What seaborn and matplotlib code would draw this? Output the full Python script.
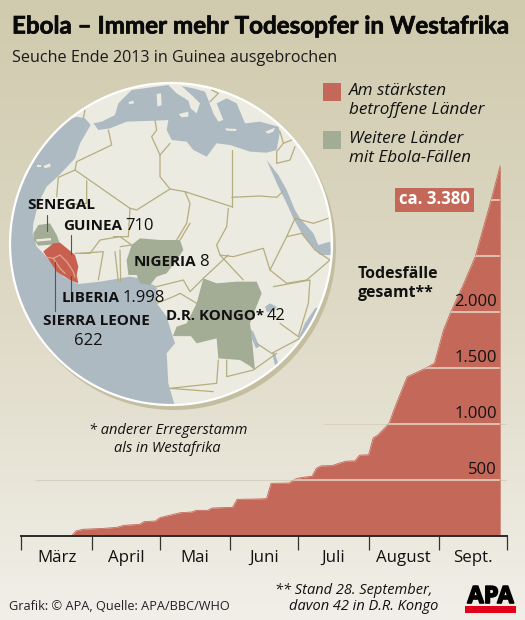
import numpy as np
import pandas as pd
import seaborn as sns
import matplotlib.pyplot as plt
import matplotlib.patheffects as pe
from matplotlib.patches import Circle, Polygon, Rectangle

# cumulative deaths
dates = ["2014-03-23", "2014-03-25", "2014-03-28", "2014-04-06", "2014-04-12", "2014-04-15",
         "2014-04-22", "2014-04-24", "2014-04-29", "2014-05-01", "2014-05-10", "2014-05-15",
         "2014-05-17", "2014-05-22", "2014-05-24", "2014-06-02", "2014-06-04", "2014-06-14",
         "2014-06-17", "2014-06-19", "2014-06-27", "2014-06-30", "2014-07-03", "2014-07-07",
         "2014-07-09", "2014-07-11", "2014-07-16", "2014-07-19", "2014-07-22", "2014-07-26",
         "2014-07-28", "2014-08-01", "2014-08-03", "2014-08-05", "2014-08-07", "2014-08-10",
         "2014-08-12", "2014-08-14", "2014-08-18", "2014-08-26", "2014-08-30", "2014-09-03",
         "2014-09-06", "2014-09-12", "2014-09-17", "2014-09-24", "2014-09-28"]
deaths = [0, 45, 60, 68, 77, 95, 104, 128, 134, 164, 208, 214, 229, 229, 250, 256, 327, 331,
          334, 470, 473, 512, 524, 533, 605, 626, 629, 650, 668, 671, 722, 725, 876, 900, 942,
          1005, 1117, 1222, 1422, 1497, 1542, 1839, 1990, 2257, 2494, 3000, 3306]

month_starts = ["2014-03-01", "2014-04-01", "2014-05-01", "2014-06-01", "2014-07-01",
                "2014-08-01", "2014-09-01", "2014-10-01"]
month_labels = ["März", "April", "Mai", "Juni", "Juli", "August", "Sept."]
y_ticks = [500, 1000, 1500, 2000, 2500, 3000]
y_tick_labels = ["500", "1.000", "1.500", "2.000", "", ""]

RED = "#c4695a"
MAP_RED = "#c9604f"
GREEN = "#a3ac95"
SEA = "#aebac2"
LAND = "#ecebe1"
BORDER = "#b5ad7f"
INK = "#111111"
FONT = "Open Sans"

sns.set_theme(style="white")
plt.rcParams["font.family"] = [FONT, "DejaVu Sans"]

fig = plt.figure(figsize=(5.25, 6.2), dpi=100)

# page in pixel coordinates, for the background, map and labels
page = fig.add_axes([0, 0, 1, 1])
page.set_xlim(0, 525)
page.set_ylim(620, 0)
page.axis("off")

grad = np.zeros((620, 1, 3))
stops = np.array([[208, 202, 174], [222, 217, 197], [241, 239, 232]]) / 255
for c in range(3):
    grad[:, 0, c] = np.interp(np.arange(620), [0, 300, 620], stops[:, c])
page.imshow(grad, extent=[0, 525, 620, 0], aspect="auto", zorder=0)


def z4(pts):
    return [(x / 3, 90 + y / 3) for x, y in pts]


def z5(pts):
    return [(60 + x / 3, 80 + y / 3) for x, y in pts]


def z7(pts):
    return [(10 + x / 3, 180 + y / 3) for x, y in pts]


cx, cy, r = 171, 244, 161
page.add_patch(Circle((cx + 3, cy + 4), r + 1, fc="#c4bea0", ec="none", zorder=1))
globe = Circle((cx, cy), r, fc=LAND, ec="none", zorder=2)
page.add_patch(globe)

atlantic = z4([(180, 100), (230, 80), (255, 85), (272, 105), (240, 160), (225, 205), (175, 258),
               (140, 290), (115, 340), (100, 400), (98, 430), (110, 470), (130, 490), (155, 520),
               (190, 560), (235, 582), (300, 575), (390, 560), (420, 565), (470, 590), (470, 640),
               (500, 680), (515, 730), (525, 760), (500, 790), (505, 880), (528, 960), (0, 1000), (0, 0)])
med = z5([(100, 130), (125, 125), (165, 105), (175, 70), (215, 30), (325, 15), (350, 40), (385, 62),
          (392, 85), (410, 100), (420, 70), (400, 50), (365, 18), (400, 25), (435, 35), (445, 60),
          (460, 100), (475, 125), (490, 120), (470, 70), (500, 55), (530, 70), (555, 130), (600, 125),
          (655, 140), (660, 155), (650, 210), (620, 218), (570, 215), (510, 195), (470, 190), (440, 230),
          (400, 210), (380, 185), (335, 180), (320, 150), (325, 120), (285, 122), (200, 125), (150, 145),
          (115, 150)])
red_sea = z4([(800, 210), (835, 255), (860, 300), (885, 360), (900, 385), (940, 430), (955, 465),
              (990, 455), (995, 495), (960, 495), (930, 460), (905, 430), (880, 385), (860, 340),
              (835, 290), (815, 245)])
indian = z4([(895, 745), (915, 700), (945, 655), (1000, 640), (1000, 800), (900, 760)])
victoria = z4([(795, 650), (810, 640), (830, 650), (822, 665), (800, 665)])
tanganyika = z4([(748, 715), (760, 725), (778, 770), (768, 775), (755, 745)])
malawi = z4([(816, 788), (824, 788), (836, 825), (826, 830)])
for poly in [atlantic, med, red_sea, indian, victoria, tanganyika, malawi]:
    p = Polygon(poly, fc=SEA, ec="none", zorder=3)
    page.add_patch(p)
    p.set_clip_path(globe)

islands = [z5([(290, 42), (303, 40), (305, 75), (292, 80)]),
           z5([(356, 102), (385, 95), (385, 110), (365, 112)]),
           z5([(495, 145), (530, 147), (528, 153), (500, 152)]),
           z5([(615, 155), (645, 143), (640, 155), (625, 161)]),
           z5([(205, 66), (220, 62), (222, 70), (208, 73)]),
           z4([(110, 225), (122, 225), (122, 232), (110, 232)]),
           z4([(130, 228), (150, 220), (152, 230), (135, 235)])]
for poly in islands:
    page.add_patch(Polygon(poly, fc=LAND, ec="none", zorder=4))

borders = [
    [(325, 120), (335, 165), (230, 215), (225, 240), (175, 262), (170, 320)],
    [(225, 240), (390, 355), (410, 360), (510, 297), (555, 305), (570, 340), (560, 400), (530, 450)],
    [(260, 272), (260, 340), (200, 345)],
    [(465, 90), (470, 120), (455, 140), (480, 195), (480, 260), (510, 297)],
    [(510, 160), (480, 195)],
    [(695, 180), (695, 350)],
    [(555, 305), (695, 350)],
    [(695, 322), (780, 318), (830, 322), (848, 305)],
    [(685, 355), (680, 410), (650, 465), (660, 495), (730, 570)],
    [(660, 495), (700, 500), (790, 475), (810, 540), (860, 580), (920, 570), (990, 510)],
    [(810, 540), (860, 440), (885, 385), (940, 400), (985, 385)],
    [(860, 440), (905, 430), (945, 480), (990, 510)],
    [(225, 490), (270, 490), (300, 450), (360, 440), (395, 465)],
    [(390, 355), (385, 440), (340, 440)],
    [(240, 490), (310, 485), (295, 570)],
    [(345, 485), (355, 575)],
    [(360, 470), (395, 465)],
    [(360, 480), (362, 575)],
    [(540, 450), (570, 400)],
    [(470, 590), (550, 570), (570, 605), (610, 565), (685, 495)],
    [(470, 640), (520, 620), (540, 610), (590, 640)],
    [(520, 735), (570, 735)],
    [(655, 810), (650, 880), (510, 895), (640, 905)],
    [(680, 810), (680, 860), (760, 840), (830, 790)],
    [(770, 760), (815, 790), (900, 745)],
    [(820, 590), (930, 570), (925, 640), (895, 740), (840, 700)],
    [(255, 60), (250, 85)],
]
for line in borders:
    xs, ys = zip(*z4(line))
    ln, = page.plot(xs, ys, color=BORDER, lw=0.9, zorder=4)
    ln.set_clip_path(globe)
for line in [[(455, 30), (475, 40), (450, 65)],
             [(660, 155), (670, 190), (650, 215), (650, 250), (690, 240), (705, 200)],
             [(670, 190), (695, 180)]]:
    xs, ys = zip(*z5(line))
    ln, = page.plot(xs, ys, color=BORDER, lw=0.9, zorder=4)
    ln.set_clip_path(globe)

nigeria = z4([(395, 465), (420, 445), (480, 450), (540, 450), (550, 480), (530, 510), (500, 550),
              (470, 560), (450, 585), (420, 580), (410, 555), (385, 555), (380, 510)])
kongo = z4([(610, 565), (650, 580), (710, 575), (770, 575), (785, 610), (765, 660), (750, 700),
            (755, 740), (760, 790), (765, 840), (745, 825), (720, 810), (655, 805), (650, 745),
            (590, 760), (570, 735), (520, 735), (530, 710), (560, 700), (590, 640)])
senegal = z7([(70, 160), (85, 135), (120, 130), (140, 165), (150, 192), (85, 197), (72, 180)])
west = z7([(105, 210), (130, 190), (150, 188), (195, 225), (205, 260), (200, 285), (205, 310),
           (180, 300), (140, 275), (120, 245), (100, 215)])
for poly, col in [(nigeria, GREEN), (kongo, GREEN), (senegal, GREEN), (west, MAP_RED)]:
    page.add_patch(Polygon(poly, fc=col, ec="none", zorder=5))
gambia = z7([(78, 178), (122, 174), (124, 181), (80, 185)])
page.add_patch(Polygon(gambia, fc=LAND, ec="none", zorder=6))
for line in [[(110, 232), (130, 235), (150, 225), (170, 245), (190, 275), (195, 292)],
             [(130, 235), (150, 265), (165, 280)]]:
    xs, ys = zip(*z7(line))
    page.plot(xs, ys, color="#d9a98f", lw=0.9, zorder=6)
page.add_patch(Circle((cx, cy), r, fc="none", ec="white", lw=1.6, zorder=7))

# leader lines for the west African labels
for x, y0, y1 in [(46.5, 215, 231), (71, 235, 254), (71, 276, 294), (55, 262, 311)]:
    page.plot([x, x], [y0, y1], color="#555555", lw=0.8, zorder=8)


def label(x, y, name, num=None, size=11, gap=3):
    t = page.text(x, y, name, fontweight="bold", fontsize=size, color=INK, va="center", zorder=9)
    if num:
        bb = t.get_window_extent(fig.canvas.get_renderer())
        x1 = page.transData.inverted().transform((bb.x1, bb.y0))[0]
        page.text(x1 + gap, y, num, fontsize=size + 1, color=INK, va="center", zorder=9)


label(27, 205, "SENEGAL")
label(63, 226, "GUINEA", "710")
label(134, 262, "NIGERIA", "8")
label(62, 298, "LIBERIA", "1.998")
label(43, 321, "SIERRA LEONE")
page.text(88, 341, "622", fontsize=12, color=INK, ha="center", va="center", zorder=9)
label(166, 316, "D.R. KONGO*", "42", size=10.8)

# headings and legend
title = page.text(12, 26, "Ebola – Immer mehr Todesopfer in Westafrika", fontsize=17.4, fontweight="bold",
                  family=["Lato", "DejaVu Sans"], color="#0a0a0a", va="center")
title.set_path_effects([pe.withStroke(linewidth=0.5, foreground="#0a0a0a")])
page.text(12, 58, "Seuche Ende 2013 in Guinea ausgebrochen", fontsize=11.6, color="#1a1a1a", va="center")
page.add_patch(Rectangle((323, 83), 18, 18, fc=RED, ec="none"))
page.add_patch(Rectangle((323, 131), 18, 18, fc=GREEN, ec="none"))
for y, txt in [(91, "Am stärksten"), (110, "betroffene Länder"), (139, "Weitere Länder"), (158, "mit Ebola-Fällen")]:
    page.text(349, y, txt, fontsize=12.3, fontstyle="italic", color=INK, va="center")

page.text(168, 431, "* anderer Erregerstamm", fontsize=10.5, fontstyle="italic", color=INK, ha="center", va="center")
page.text(167, 448, "als in Westafrika", fontsize=10.5, fontstyle="italic", color=INK, ha="center", va="center")
page.text(9, 606, "Grafik: © APA, Quelle: APA/BBC/WHO", fontsize=9.2, color="#222222", va="center")
page.text(275, 590, "** Stand 28. September,", fontsize=10.5, fontstyle="italic", color=INK, va="center")
page.text(289, 606, "davon 42 in D.R. Kongo", fontsize=10.5, fontstyle="italic", color=INK, va="center")

# APA logo
logo = page.text(490.5, 597, "APA", fontsize=17, fontweight="bold", color="black", ha="center", va="center", zorder=2)
logo.set_path_effects([pe.withStroke(linewidth=1.2, foreground="black")])
page.add_patch(Rectangle((465, 605.5), 51, 7, fc="#e2001a", ec="none", zorder=3))

# the chart itself
df = pd.DataFrame({"date": pd.to_datetime(dates), "deaths": deaths})
ticks = pd.to_datetime(month_starts)
base_px, top_px = 536, 155
ymax = (base_px - top_px) / 56 * 500

ax = fig.add_axes([21.5 / 525, (620 - base_px) / 620, 485.5 / 525, (base_px - top_px) / 620], zorder=5)
ax.patch.set_alpha(0)
# faint continuation of the grid outside the area
ax.hlines(500, ticks[0] + pd.Timedelta(days=6), ticks[-1], color="#d3cebb", lw=0.6, zorder=0)
ax.hlines(1000, ticks[4] + pd.Timedelta(days=11), ticks[-1], color="#d3cebb", lw=0.6, zorder=0)
sns.lineplot(data=df, x="date", y="deaths", color=RED, lw=0.6, errorbar=None, ax=ax)
area = ax.fill_between(df["date"], df["deaths"], 0, color=RED, lw=0)
ax.set_xlim(ticks[0], ticks[-1])
ax.set_ylim(0, ymax)
ax.set_xlabel("")
ax.set_ylabel("")
ax.set_yticks([])

lines = ax.hlines(y_ticks, df["date"].iloc[0], df["date"].iloc[-1], color="#e4d8c6", lw=1.1, zorder=3)
lines.set_clip_path(area.get_paths()[0], area.get_transform())
for val, txt in zip(y_ticks, y_tick_labels):
    ax.annotate(txt, (df["date"].iloc[-1], val), xytext=(-2.3, 1.5), textcoords="offset points",
                ha="right", va="bottom", fontsize=12, color=INK, zorder=4)

mids = ticks[:-1] + (ticks[1:] - ticks[:-1]) / 2
ax.set_xticks(ticks)
ax.set_xticklabels([])
ax.set_xticks(mids, minor=True)
ax.set_xticklabels(month_labels, minor=True, fontsize=12.2, color=INK)
ax.tick_params(axis="x", which="major", bottom=True, direction="out", length=10, width=0.9, color="#333333")
ax.tick_params(axis="x", which="minor", bottom=False, pad=6)
sns.despine(ax=ax, left=True)
ax.spines["bottom"].set_linewidth(1.4)
ax.spines["bottom"].set_color("#2a2a2a")

# total box and side label
page2 = fig.add_axes([0, 0, 1, 1], zorder=6)
page2.set_xlim(0, 525)
page2.set_ylim(620, 0)
page2.axis("off")
page2.add_patch(Rectangle((395, 188), 78.5, 24, fc=RED, ec="none"))
page2.text(434, 199.5, "ca. 3.380", fontsize=12, fontweight="bold", color="white", ha="center", va="center")
page2.text(358, 274, "Todesfälle", fontsize=11.4, fontweight="bold", color=INK, va="center")
page2.text(358, 293, "gesamt**", fontsize=11.4, fontweight="bold", color=INK, va="center")

fig.savefig("out.png", dpi=100)
